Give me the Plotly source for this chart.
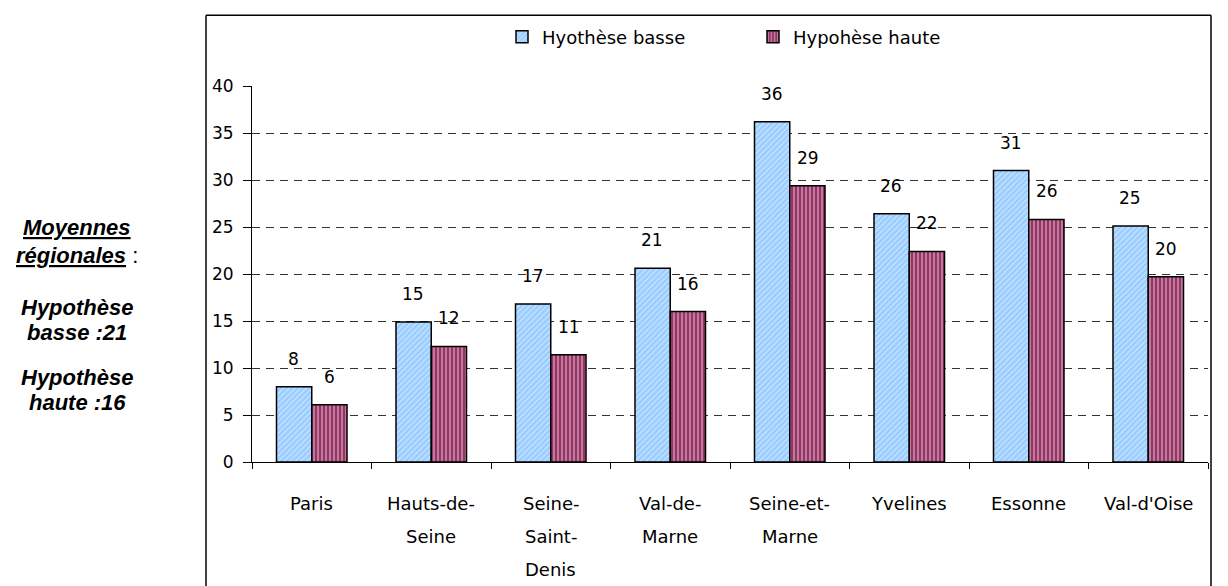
import plotly.graph_objects as go

# Departements and values
departements = ["Paris", "Hauts-de-Seine", "Seine-Saint-Denis", "Val-de-Marne",
                "Seine-et-Marne", "Yvelines", "Essonne", "Val-d'Oise"]
tick_lines = [["Paris"], ["Hauts-de-", "Seine"], ["Seine-", "Saint-", "Denis"],
              ["Val-de-", "Marne"], ["Seine-et-", "Marne"], ["Yvelines"],
              ["Essonne"], ["Val-d'Oise"]]
hyp_basse = [8.0, 14.9, 16.8, 20.6, 36.2, 26.4, 31.0, 25.1]
hyp_haute = [6.1, 12.3, 11.4, 16.0, 29.4, 22.4, 25.8, 19.7]
y_ticks = [0, 5, 10, 15, 20, 25, 30, 35, 40]
side_lines = ["<b><i><u>Moyennes</u></i></b>",
              "<b><i><u>régionales</u></i></b> :",
              "<b><i>Hypothèse</i></b>", "<b><i>basse :21</i></b>",
              "<b><i>Hypothèse</i></b>", "<b><i>haute :16</i></b>"]

font_main = "Comic Sans MS, DejaVu Sans, sans-serif"
font_side = "Liberation Sans, Arial, sans-serif"

# plot area geometry in figure pixels (page body adds an 8px offset)
W, H = 1228, 586
L, T, PW, PH = 244, 77, 956, 377


def paper_x(px):
    return (px - 8 - L) / PW


def paper_y(py):
    return (T + PH - (py - 8)) / PH


fig = go.Figure()
fig.add_trace(go.Bar(
    x=departements, y=hyp_basse, name="Hyothèse basse",
    marker=dict(color="#99CCFF",
                line=dict(color="black", width=1.5),
                pattern=dict(shape="/", fgcolor="white", bgcolor="#99CCFF",
                             size=4, solidity=0.3))))
fig.add_trace(go.Bar(
    x=departements, y=hyp_haute, name="Hypohèse haute",
    marker=dict(color="#993366",
                line=dict(color="black", width=1.5),
                pattern=dict(shape="|", fgcolor="white", bgcolor="#993366",
                             size=4, solidity=0.35))))

# value labels above the bars
for dep, vb, vh in zip(departements, hyp_basse, hyp_haute):
    fig.add_annotation(x=dep, y=vb, text=f"{vb:.0f}", showarrow=False,
                       xshift=-18, yshift=28, font=dict(size=17, color="black"))
    fig.add_annotation(x=dep, y=vh, text=f"{vh:.0f}", showarrow=False,
                       xshift=18, yshift=28, font=dict(size=17, color="black"))

# category labels, one annotation per line to get Excel-like spacing
for dep, lines in zip(departements, tick_lines):
    for i, ln in enumerate(lines):
        fig.add_annotation(x=dep, y=0, text=ln, showarrow=False,
                           yanchor="middle", yshift=-41 - 33 * i,
                           font=dict(size=18, color="black"))

# side note, one line at a time
side_y = [227, 255, 307, 332, 377, 402]
for txt, py in zip(side_lines, side_y):
    fig.add_annotation(xref="paper", yref="paper", x=paper_x(77), y=paper_y(py),
                       text=txt, showarrow=False, xanchor="center", yanchor="middle",
                       font=dict(family=font_side, size=22, color="black"))

# chart frame: left, top and right sides
frame_l, frame_r, frame_t = paper_x(206), paper_x(1211), paper_y(14)
for x0, y0, x1, y1 in [(frame_l, -0.6, frame_l, frame_t),
                       (frame_l, frame_t, frame_r, frame_t),
                       (frame_r, -0.6, frame_r, frame_t)]:
    fig.add_shape(type="line", xref="paper", yref="paper",
                  x0=x0, y0=y0, x1=x1, y1=y1,
                  line=dict(color="black", width=1.5))

fig.update_layout(
    width=W, height=H,
    margin=dict(l=L, r=W - L - PW, t=T, b=H - T - PH),
    paper_bgcolor="white", plot_bgcolor="white",
    font=dict(family=font_main, size=16, color="black"),
    barmode="group", bargap=0.41, bargroupgap=0,
    showlegend=True,
    legend=dict(orientation="h", x=paper_x(502), y=paper_y(37), xanchor="left",
                yanchor="middle", entrywidth=206, font=dict(size=18),
                bgcolor="rgba(0,0,0,0)"),
)
fig.update_xaxes(showline=True, linecolor="black", linewidth=1,
                 ticks="outside", ticklen=6, tickcolor="black",
                 tickson="boundaries", showticklabels=False, showgrid=False)
fig.update_yaxes(range=[0, 40], tickvals=y_ticks, showline=True, linecolor="black",
                 linewidth=1, ticks="outside", ticklen=8, tickcolor="black",
                 showgrid=True, gridcolor="#333333", griddash="8px,6px",
                 gridwidth=1, zeroline=False, ticklabelstandoff=6,
                 tickfont=dict(size=17))

fig.write_html("out.html")
